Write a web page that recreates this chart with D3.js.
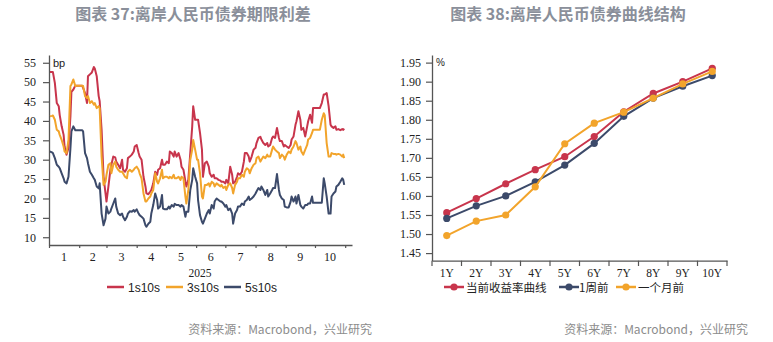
<!DOCTYPE html>
<html><head><meta charset="utf-8">
<script src="https://cdn.jsdelivr.net/npm/d3@7"></script>
<style>body{margin:0;background:#fff}svg{display:block}</style>
</head><body><svg id="c" width="773" height="342"></svg>
<script>
// ---------- Left chart data: days since 2025-01-01 ----------
const dayOffsets = [1,3,4,6,8,10,11,13,15,16,
18,20,22,23,25,27,28,30,32,34,
35,37,39,40,42,44,46,47,49,51,
52,54,56,58,59,61,63,64,66,68,
69,71,73,75,76,78,80,81,83,85,
87,88,90,92,93,95,97,99,100,102,
104,105,107,109,111,112,114,116,117,119,
121,123,124,126,128,129,131,133,135,136,
138,140,141,143,145,147,148,150,152,153,
155,157,158,160,162,164,165,167,169,170,
172,174,176,177,179,181,182,184,186,188,
189,191,193,194,196,198,200,201,203,205,
206,208,210,212,213,215,217,218,220,222,
224,225,227,229,230,232,234,236,237,239,
241,242,244,246,248,249,251,253,254,256,
258,259,261,263,265,266,268,270,271,273,
275,277,278,280,282,283,285,287,289,290,
292,294,295,297,299,301,302,303];
const s1s10s = [52.6,52.6,52.6,49.8,44.6,43.8,41.5,38.6,36.4,33.4,
31.3,33,41.2,47.5,48.1,49.1,49.1,49.1,49.1,49.1,
48.5,47.2,44.6,51.5,52,52.5,53.9,53.5,51.5,46.4,
45.1,37.7,25.6,21.3,19.2,23.1,27.4,28.7,30.8,30.6,
29.5,28.7,27.8,30,27.4,26.9,27.8,30.4,30.8,31.3,
32.1,33.4,33.8,31.7,30.8,30,25.6,23.1,21.3,21.1,
21.8,22.2,23.9,26.9,26.1,27.4,27.8,30,28.7,28.7,
29.5,29.1,32.1,31.7,30.8,32.1,30.8,31.7,30,28.2,
27.4,24.4,23.1,24.8,31.7,38.6,43.8,40.3,40.3,40.3,
36.9,32.6,25.6,29.1,29.5,28.2,26.5,25.6,26.1,25.2,
25.2,24.8,24.6,24.3,24.3,23.9,24.8,23.9,28.2,26.1,
23.9,24.3,25.6,26.5,26.1,26.9,29.5,31.7,31.7,30.8,
29.5,30.8,32.6,33.1,34.3,35.6,35.9,35.2,34.3,33.8,
34.3,33.4,33.8,35.6,36,35.6,38.2,35.6,34.8,34.8,
33.4,33.8,33.4,33,33.8,35.2,36,39,39.9,42.5,
40.3,37.7,38.2,36,38.6,39.9,41.6,39.5,43.3,43.3,
43.3,43.3,43.3,44.6,46.8,46.8,47.2,43.8,39,38.6,
38.2,38.6,37.7,37.9,37.6,37.9,37.7,38];
const s3s10s = [41.2,41.3,41.4,40.3,37.7,37.3,36.4,35.1,33.4,32.1,
31.7,35.1,49,49.4,50.7,49,49.1,49.1,49.1,49.1,
49,46.4,45.9,46.4,44.6,45.1,44.2,44.6,43.3,43.8,
43.3,30.8,23.5,24.3,26.1,28.7,29.1,26.5,28.7,29.5,
28.2,27.4,26.9,26.9,26.5,25.6,25.2,26.9,27.4,26.9,
27.4,27.8,28.2,27.4,26.5,25.2,21.3,19.2,19.2,20,
20.5,21.3,22.2,26.5,24.3,23.9,25.2,27.4,25.2,25.6,
25.6,25.2,25.6,25.2,26.1,25.2,25.2,25.6,24.8,25.6,
25.2,20.5,18.7,22.2,30,32.6,35.1,32.6,30,30,
26.5,20.5,20,23.5,23.5,23.9,23.1,24.3,23.9,23.1,
23.9,23.5,23.1,23.5,22.7,23.1,22.2,23.5,23.9,22.7,
21.3,23.5,24.3,25.2,25.2,26.1,25.6,26.9,27.8,27.4,
26.5,27.8,28.7,29.1,30.4,30.8,29.5,30,30.8,30.4,
31.3,30.8,30.8,32.6,33.4,32.6,32.1,31.7,30.4,31.3,
30.8,30,31.3,32.1,31.7,32.6,33.4,34.8,34.3,32.6,
33.4,32.1,31.3,32.6,33.8,35.2,35.6,36.9,37.7,37.7,
37.7,37.7,37.7,40.3,42,41.5,34.3,30.8,30.8,31.7,
31.5,31.5,31.3,31.5,31.3,30.8,31.3,30.4];
const s5s10s = [32.1,31.9,31.7,30.4,28.7,28.2,27.8,26.5,25.2,24.3,
23.9,25.6,33,37.3,38.6,37.6,37.6,37.6,37.6,37.6,
37.3,31.7,30.4,29.1,26.9,26.1,25.2,24.8,23.1,22.6,
23.9,16.1,13.1,14.8,17.9,16.1,16.6,17.4,18.7,20,
17.9,16.1,15.7,16.1,15.3,14.4,15.3,16.1,16.7,16.6,
17,16.6,17.2,16.1,15.7,15.3,14.8,13.1,12.7,13.5,
14,16.1,18.3,21.3,19.6,17.4,17.9,20.9,17.4,17.2,
17.2,17.9,17.4,18.3,17.9,18.6,18.3,18.3,17.9,18.3,
17.9,15.3,16.6,16.6,22.2,24.8,27.8,25.6,23.9,19.6,
15.7,14,13.5,14.8,16.1,17,16.1,18.3,17.4,19.2,
20,19.6,19.2,19.2,18.7,17.9,18.3,17,17.4,16.1,
13.5,16.1,17,17.9,17.9,18.7,18.3,19.2,19.6,20.5,
19.6,20,20.5,21.3,21.8,22.7,22.2,23.1,22.2,20.9,
22.2,20.5,21.3,22.2,22.7,22.7,26.3,22.2,20.9,20,
19.6,17.9,17.7,17.7,19.2,20.5,19.2,20.5,18.7,20.9,
18.3,17.9,17.4,18.3,18.3,18.7,18.7,20.5,18.9,18.9,
18.9,18.9,18.9,18.9,25.2,23.9,20.5,16.1,16.1,20.5,
21.3,21.8,23.1,23.5,24.3,25.2,24.8,23.5];
const leftSeriesNames = ["1s10s","3s10s","5s10s"];
const monthLabels = ["1","2","3","4","5","6","7","8","9","10"];
const yearLabel = "2025";
const yTicksLeft = [10,15,20,25,30,35,40,45,50,55];

// ---------- Right chart data ----------
const tenors = ["1Y","2Y","3Y","4Y","5Y","6Y","7Y","8Y","9Y","10Y"];
const curveNow = [1.556,1.593,1.632,1.669,1.703,1.756,1.821,1.869,1.900,1.935];
const curve1W  = [1.541,1.574,1.600,1.637,1.681,1.738,1.809,1.857,1.888,1.916];
const curve1M  = [1.496,1.534,1.550,1.624,1.737,1.791,1.820,1.857,1.894,1.927];
const rightSeriesNames = ["当前收益率曲线","1周前","一个月前"];
const yTicksRight = [1.45,1.50,1.55,1.60,1.65,1.70,1.75,1.80,1.85,1.90,1.95];

// ---------- Styles ----------
const RED = "#c8354c", ORANGE = "#f2a42b", NAVY = "#3c4a6a";
const TITLE_COLOR = "#8a8f9a";
const SERIF = "'Liberation Serif','Times New Roman',serif";
const SANS = "'Liberation Sans',Arial,sans-serif";
const CJK = "'Noto Sans CJK SC','Noto Sans',sans-serif";

const svg = d3.select("#c");

// Titles
svg.append("text").attr("x",193).attr("y",20).attr("text-anchor","middle")
  .attr("font-family",CJK).attr("font-weight",700).attr("font-size",16)
  .attr("fill",TITLE_COLOR).text("图表 37:离岸人民币债券期限利差");
svg.append("text").attr("x",568).attr("y",20).attr("text-anchor","middle")
  .attr("font-family",CJK).attr("font-weight",700).attr("font-size",16)
  .attr("fill",TITLE_COLOR).text("图表 38:离岸人民币债券曲线结构");

// Source lines
[[372,"资料来源：Macrobond，兴业研究"],[748,"资料来源：Macrobond，兴业研究"]].forEach(([x,t])=>{
  svg.append("text").attr("x",x).attr("y",334).attr("text-anchor","end")
    .attr("font-family",CJK).attr("font-size",12).attr("fill","#8c8c8c").text(t);
});

function styleAxis(g){
  g.selectAll("path.domain").attr("stroke","#555").attr("stroke-width",1.3);
  g.selectAll(".tick line").attr("stroke","#555").attr("stroke-width",1.2);
}

// ================= Left chart =================
(function(){
  const start = new Date(2025,0,1);
  const dates = dayOffsets.map(d => d3.timeDay.offset(start, d));
  const x = d3.scaleTime().domain([start, new Date(2025,10,8)]).range([49,352]);
  const y = d3.scaleLinear().domain([8,57]).range([245,55]);
  const g = svg.append("g");

  const yAx = g.append("g").attr("transform","translate(49,0)")
    .call(d3.axisLeft(y).tickValues(yTicksLeft).tickSize(6).tickSizeOuter(0).tickPadding(7));
  yAx.selectAll("text").attr("font-family",SERIF).attr("font-size",12).attr("fill","#222");
  styleAxis(yAx);

  const monthStarts = d3.timeMonth.range(start, new Date(2025,10,2));
  const xAx = g.append("g").attr("transform","translate(0,245)")
    .call(d3.axisBottom(x).tickValues(monthStarts).tickSize(3).tickSizeOuter(0).tickFormat(""));
  styleAxis(xAx);

  monthLabels.forEach((lab,i)=>{
    const mid = (x(monthStarts[i]) + x(monthStarts[i+1]))/2;
    g.append("text").attr("x",mid).attr("y",261).attr("text-anchor","middle")
      .attr("font-family",SERIF).attr("font-size",12).attr("fill","#222").text(lab);
  });
  g.append("text").attr("x",200).attr("y",276.5).attr("text-anchor","middle")
    .attr("font-family",SERIF).attr("font-size",11.5).attr("fill","#222").text(yearLabel);

  g.append("text").attr("x",53).attr("y",67).attr("font-family",SANS)
    .attr("font-size",11).attr("fill","#222").text("bp");

  const line = d3.line().x((d,i)=>x(dates[i])).y(d=>y(d));
  const series = [[s1s10s,RED],[s3s10s,ORANGE],[s5s10s,NAVY]];
  [[s5s10s,NAVY],[s1s10s,RED],[s3s10s,ORANGE]].forEach(([vals,col])=>{
    g.append("path").datum(vals).attr("d",line).attr("fill","none")
      .attr("stroke",col).attr("stroke-width",2).attr("stroke-linejoin","round");
  });

  // legend
  const legX = [107,166,224];
  series.forEach(([v,col],i)=>{
    g.append("line").attr("x1",legX[i]).attr("x2",legX[i]+17).attr("y1",287).attr("y2",287)
      .attr("stroke",col).attr("stroke-width",2.5);
    g.append("text").attr("x",legX[i]+21).attr("y",292).attr("font-family",SANS)
      .attr("font-size",12).attr("fill","#222").text(leftSeriesNames[i]);
  });
})();

// ================= Right chart =================
(function(){
  const x = d3.scaleBand().domain(tenors).range([432,727]).padding(0);
  const y = d3.scaleLinear().domain([1.43,1.97]).range([260.7,55]);
  const g = svg.append("g");

  const yAx = g.append("g").attr("transform","translate(432,0)")
    .call(d3.axisLeft(y).tickValues(yTicksRight).tickSize(6).tickSizeOuter(0).tickPadding(5)
      .tickFormat(d3.format(".2f")));
  yAx.selectAll("text").attr("font-family",SERIF).attr("font-size",12).attr("fill","#222");
  styleAxis(yAx);

  const xAx = g.append("g").attr("transform","translate(0,260.7)")
    .call(d3.axisBottom(x).tickSize(0).tickSizeOuter(0).tickPadding(8));
  xAx.selectAll("text").attr("font-family",SERIF).attr("font-size",11.5).attr("fill","#222");
  styleAxis(xAx);
  // band boundary ticks
  const bounds = tenors.map(t=>x(t)).concat([x.range()[1]]);
  g.selectAll("line.bt").data(bounds).enter().append("line").attr("class","bt")
    .attr("x1",d=>d).attr("x2",d=>d).attr("y1",260.7).attr("y2",266)
    .attr("stroke","#555").attr("stroke-width",1.2);

  g.append("text").attr("x",436).attr("y",66).attr("font-family",SANS)
    .attr("font-size",10).attr("fill","#222").text("%");

  const cx = t => x(t) + x.bandwidth()/2;
  const line = d3.line().x((d,i)=>cx(tenors[i])).y(d=>y(d));
  const series = [[curveNow,RED],[curve1W,NAVY],[curve1M,ORANGE]];
  [[curveNow,RED],[curve1W,NAVY],[curve1M,ORANGE]].forEach(([vals,col])=>{
    g.append("path").datum(vals).attr("d",line).attr("fill","none")
      .attr("stroke",col).attr("stroke-width",2);
    g.selectAll(null).data(vals).enter().append("circle")
      .attr("cx",(d,i)=>cx(tenors[i])).attr("cy",d=>y(d)).attr("r",3.6).attr("fill",col);
  });

  const legX = [444,559,616];
  const legT = [466,579,638];
  series.forEach(([v,col],i)=>{
    g.append("line").attr("x1",legX[i]).attr("x2",legX[i]+20).attr("y1",287).attr("y2",287)
      .attr("stroke",col).attr("stroke-width",2.5);
    g.append("circle").attr("cx",legX[i]+10).attr("cy",287).attr("r",3.6).attr("fill",col);
    g.append("text").attr("x",legT[i]).attr("y",292).attr("font-family",CJK)
      .attr("font-size",11.5).attr("fill","#222").text(rightSeriesNames[i]);
  });
})();
</script></body></html>
